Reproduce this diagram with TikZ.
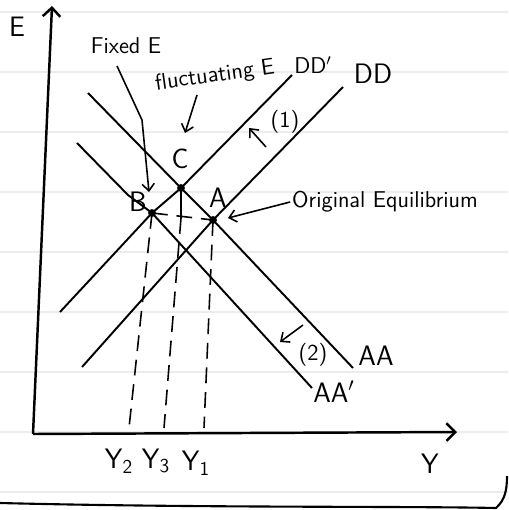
\documentclass[tikz,border=0pt]{standalone}
\usepackage{tikz}
\usetikzlibrary{arrows.meta}

\begin{document}
\begin{tikzpicture}[
  x=0.02cm, y=-0.02cm,
  every node/.style={font=\sffamily\fontsize{13}{13}\selectfont, inner sep=1pt},
  big/.style={font=\sffamily\fontsize{16}{16}\selectfont},
  curve/.style={line width=1.1pt, line join=round},
  axis/.style={line width=1.4pt, -{Straight Barb[length=5pt,width=10pt]}},
  guide/.style={line width=0.9pt, dash pattern=on 9pt off 5pt},
  arr/.style={line width=0.9pt, line join=round, -{Straight Barb[length=4pt,width=7pt]}},
  rule/.style={gray!15, line width=0.6pt},
  dot/.style={circle, fill, inner sep=0pt, minimum size=4.5pt}
]
  \useasboundingbox (0,0) rectangle (508,510);

  % ruled paper
  \foreach \y in {12,72,...,492}
    \draw[rule] (0,\y) -- (508,\y);
  \draw[line width=1.2pt] (0,503) .. controls (200,508) and (400,506) .. (496,508)
    .. controls (505,500) and (507,490) .. (507,476);

  % axes
  \coordinate (O) at (33,434);
  \coordinate (Etop) at (52,6);
  \coordinate (Yend) at (457,432);
  \draw[axis] (O) -- (Etop);
  \draw[axis] (O) -- (Yend);
  \node[big] (labE) at (17,27) {E};
  \node[big] (labY) at (430,464) {Y};

  % equilibrium points
  \node[dot] (B) at (152,213) {};
  \node[dot] (C) at (181,188) {};
  \node[dot] (A) at (213,220) {};
  \node[big] (labB) at (138,202) {B};
  \node[big] (labC) at (180,159) {C};
  \node[big] (labA) at (218,198) {A};

  % curve end points
  \coordinate (aa1) at (88,93);    \coordinate (aa2) at (353,368);
  \coordinate (ab1) at (77,143);   \coordinate (ab2) at (312,388);
  \coordinate (dd1) at (82,367);   \coordinate (dd2) at (343,87);
  \coordinate (db1) at (60,312);   \coordinate (db2) at (292,75);

  \draw[curve] (aa1) -- (C.center) -- (A.center) -- (aa2);
  \draw[curve] (ab1) -- (128,195) -- (B.center) -- (ab2);
  \draw[curve] (dd1) -- (A.center) -- (dd2);
  \draw[curve] (db1) -- (B.center) -- (C.center) -- (db2);

  \node[big] (labAA)  at (376,356) {AA};
  \node[big] (labAAp) at (334,392) {AA$'$};
  \node[big] (labDD)  at (373,74) {DD};
  \node (labDDp) at (313,65) {DD$'$};

  % projections
  \coordinate (y2) at (129,428);
  \coordinate (y3) at (164,428);
  \coordinate (y1) at (204,428);
  \draw[guide] (B.center) -- (y2);
  \draw[line width=0.9pt] (C.center) -- (181,218);
  \draw[guide] (181,218) -- (y3);
  \draw[guide] (A.center) -- (y1);
  \draw[guide] (B.center) -- (A.center);
  \node[big] (labY2) at (119,461) {Y\textsubscript{2}};
  \node[big] (labY3) at (156,461) {Y\textsubscript{3}};
  \node[big] (labY1) at (196,463) {Y\textsubscript{1}};

  % notes
  \node (fixed) at (126,46) {Fixed E};
  \draw[arr] (117,66) -- (142,120) -- (149,192);
  \node[rotate=8] (fluct) at (215,76) {fluctuating E};
  \draw[arr] (197,95) -- (185,133);
  \node (orig) at (385,202) {Original Equilibrium};
  \draw[arr] (orig.west) -- (228,218);
  \draw[arr] (266,147) -- (249,128);
  \node (shift1) at (285,122) {(1)};
  \draw[arr] (303,325) -- (280,342);
  \node (shift2) at (313,355) {(2)};
\end{tikzpicture}
\end{document}
